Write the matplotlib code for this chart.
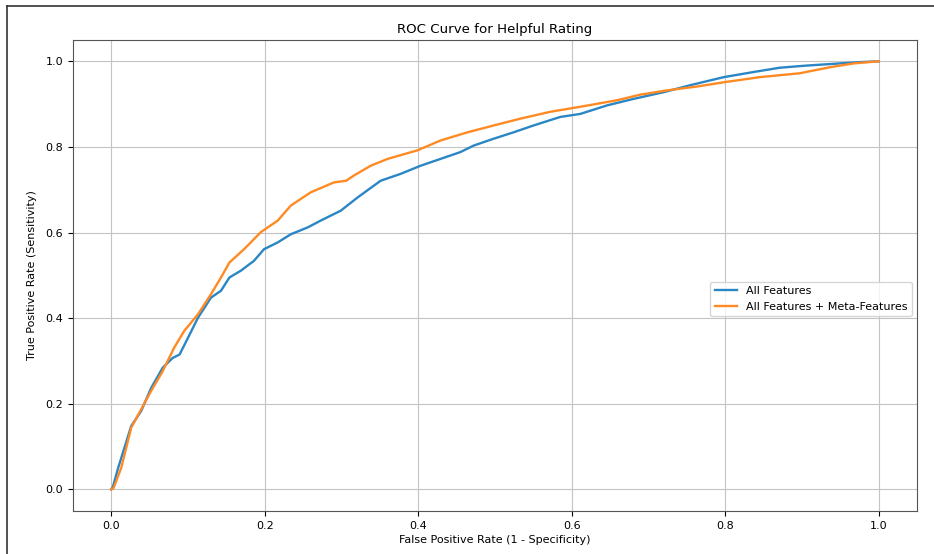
import matplotlib
matplotlib.use("Agg")
import matplotlib.pyplot as plt
from matplotlib.lines import Line2D

# ROC points (FPR, TPR) for the two feature sets
fpr_all = [0.0, 0.002, 0.009, 0.026, 0.039, 0.052, 0.067, 0.080, 0.089, 0.100,
           0.113, 0.130, 0.143, 0.154, 0.169, 0.186, 0.199, 0.217, 0.234, 0.256,
           0.273, 0.299, 0.321, 0.351, 0.377, 0.403, 0.429, 0.455, 0.472, 0.498,
           0.524, 0.550, 0.585, 0.611, 0.646, 0.680, 0.720, 0.754, 0.798, 0.837,
           0.871, 0.906, 0.949, 0.975, 1.0]
tpr_all = [0.0, 0.005, 0.05, 0.148, 0.183, 0.237, 0.284, 0.307, 0.315, 0.354,
           0.401, 0.448, 0.464, 0.495, 0.511, 0.534, 0.561, 0.577, 0.596, 0.612,
           0.628, 0.651, 0.682, 0.721, 0.737, 0.756, 0.772, 0.788, 0.803, 0.819,
           0.834, 0.850, 0.870, 0.877, 0.897, 0.912, 0.928, 0.944, 0.963, 0.975,
           0.985, 0.990, 0.995, 0.998, 1.0]

fpr_meta = [0.0, 0.003, 0.013, 0.026, 0.052, 0.067, 0.082, 0.095, 0.113, 0.130,
            0.143, 0.154, 0.173, 0.195, 0.217, 0.234, 0.260, 0.290, 0.306, 0.316,
            0.338, 0.360, 0.399, 0.429, 0.464, 0.498, 0.533, 0.572, 0.615, 0.659,
            0.689, 0.724, 0.763, 0.798, 0.845, 0.897, 0.936, 0.967, 1.0]
tpr_meta = [0.0, 0.003, 0.05, 0.144, 0.230, 0.276, 0.331, 0.370, 0.409, 0.456,
            0.495, 0.530, 0.561, 0.601, 0.628, 0.663, 0.694, 0.717, 0.721, 0.733,
            0.756, 0.772, 0.792, 0.815, 0.834, 0.850, 0.866, 0.882, 0.895, 0.909,
            0.922, 0.932, 0.941, 0.951, 0.963, 0.972, 0.986, 0.995, 1.0]

labels = ["All Features", "All Features + Meta-Features"]

fig = plt.figure(figsize=(9.34, 5.54), dpi=100)
ax = fig.add_axes([0.078, 0.078, 0.904, 0.85])

ax.plot(fpr_all, tpr_all, color="#2a86c4", lw=1.7, label=labels[0])
ax.plot(fpr_meta, tpr_meta, color="#ff8a24", lw=1.7, label=labels[1])

ax.set_title("ROC Curve for Helpful Rating", fontsize=9.6, pad=5)
ax.set_xlabel("False Positive Rate (1 - Specificity)", fontsize=8, labelpad=3)
ax.set_ylabel("True Positive Rate (Sensitivity)", fontsize=8, labelpad=6)
ax.tick_params(labelsize=8, length=3.5)
ax.grid(True, color="#c4c4c4", lw=0.8)
ax.legend(loc="center right", bbox_to_anchor=(1.0, 0.45), fontsize=8)
for s in ax.spines.values():
    s.set_color("#555555")

# thin frame around the figure (top and left edges)
fig.add_artist(Line2D([0.008, 1.0], [0.989, 0.989], color="#333333", lw=1.2))
fig.add_artist(Line2D([0.008, 0.008], [0.0, 0.989], color="#333333", lw=1.2))

fig.savefig("out.png", dpi=100)
